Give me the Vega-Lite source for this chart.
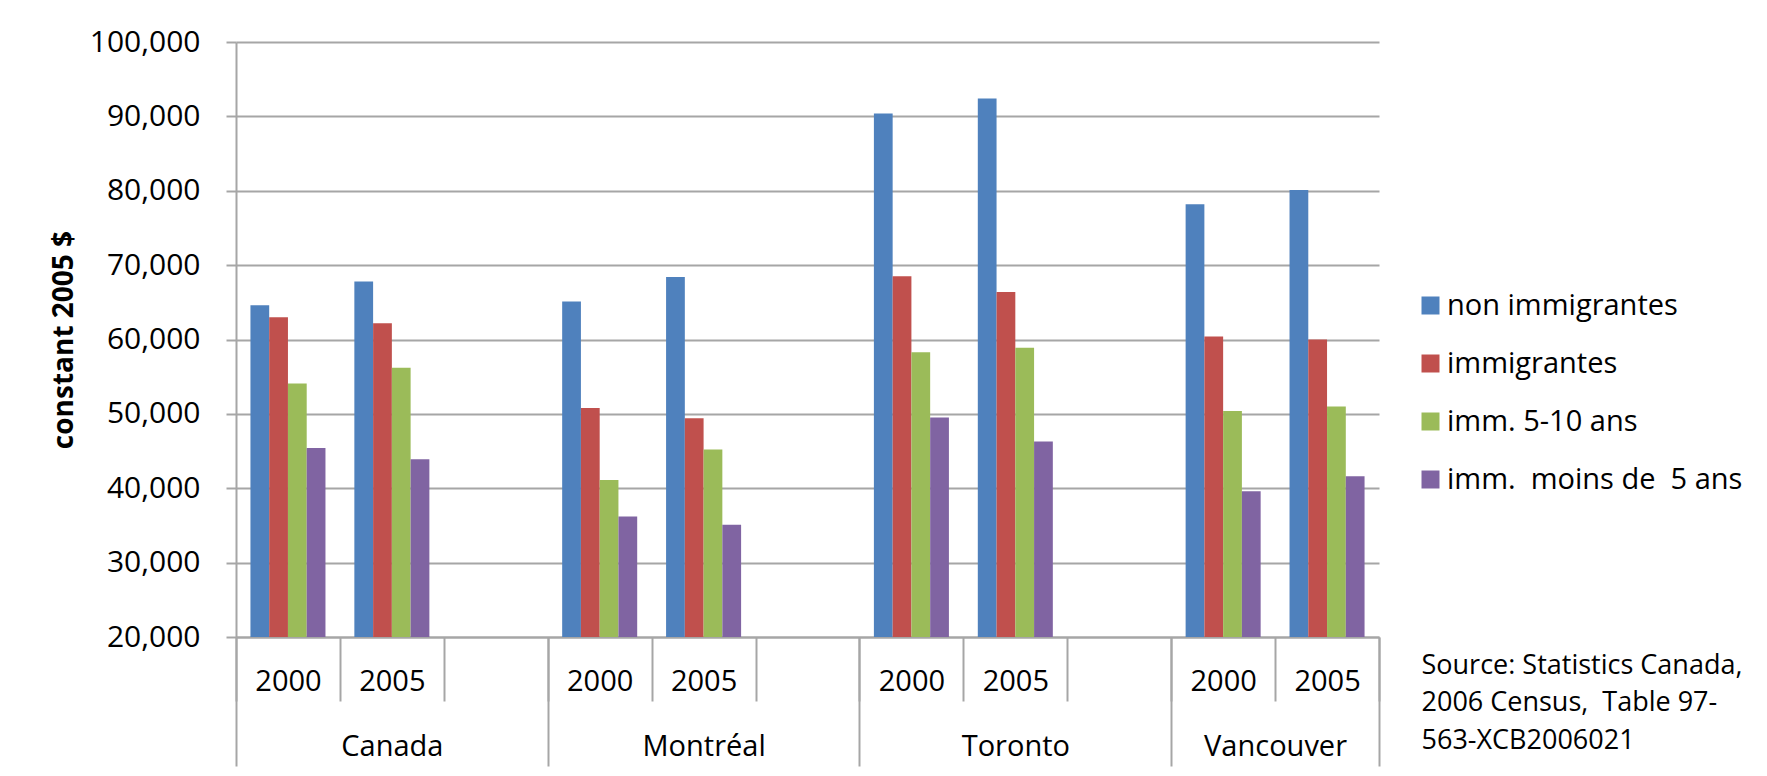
{
  "$schema": "https://vega.github.io/schema/vega-lite/v6.json",
  "width": 1143,
  "height": 595,
  "autosize": {"type": "none"},
  "padding": {"left": 236, "top": 42, "right": 388, "bottom": 139},
  "background": "white",
  "config": {
    "font": "Open Sans",
    "view": {"stroke": null},
    "axis": {
      "labelFont": "Open Sans",
      "titleFont": "Open Sans",
      "labelColor": "#000000",
      "titleColor": "#000000",
      "domainColor": "#a6a6a6",
      "domainWidth": 2,
      "tickColor": "#a6a6a6",
      "tickWidth": 2,
      "gridColor": "#a6a6a6",
      "gridWidth": 2
    }
  },
  "data": {
    "values": [
      {"city": "Canada", "year": "2000", "serie": "non immigrantes", "value": 64600},
      {"city": "Canada", "year": "2000", "serie": "immigrantes", "value": 63000},
      {"city": "Canada", "year": "2000", "serie": "imm. 5-10 ans", "value": 54100},
      {"city": "Canada", "year": "2000", "serie": "imm.  moins de  5 ans", "value": 45400},
      {"city": "Canada", "year": "2005", "serie": "non immigrantes", "value": 67800},
      {"city": "Canada", "year": "2005", "serie": "immigrantes", "value": 62200},
      {"city": "Canada", "year": "2005", "serie": "imm. 5-10 ans", "value": 56200},
      {"city": "Canada", "year": "2005", "serie": "imm.  moins de  5 ans", "value": 43900},
      {"city": "Montréal", "year": "2000", "serie": "non immigrantes", "value": 65100},
      {"city": "Montréal", "year": "2000", "serie": "immigrantes", "value": 50800},
      {"city": "Montréal", "year": "2000", "serie": "imm. 5-10 ans", "value": 41100},
      {"city": "Montréal", "year": "2000", "serie": "imm.  moins de  5 ans", "value": 36200},
      {"city": "Montréal", "year": "2005", "serie": "non immigrantes", "value": 68400},
      {"city": "Montréal", "year": "2005", "serie": "immigrantes", "value": 49400},
      {"city": "Montréal", "year": "2005", "serie": "imm. 5-10 ans", "value": 45200},
      {"city": "Montréal", "year": "2005", "serie": "imm.  moins de  5 ans", "value": 35100},
      {"city": "Toronto", "year": "2000", "serie": "non immigrantes", "value": 90400},
      {"city": "Toronto", "year": "2000", "serie": "immigrantes", "value": 68500},
      {"city": "Toronto", "year": "2000", "serie": "imm. 5-10 ans", "value": 58300},
      {"city": "Toronto", "year": "2000", "serie": "imm.  moins de  5 ans", "value": 49500},
      {"city": "Toronto", "year": "2005", "serie": "non immigrantes", "value": 92400},
      {"city": "Toronto", "year": "2005", "serie": "immigrantes", "value": 66400},
      {"city": "Toronto", "year": "2005", "serie": "imm. 5-10 ans", "value": 58900},
      {"city": "Toronto", "year": "2005", "serie": "imm.  moins de  5 ans", "value": 46300},
      {"city": "Vancouver", "year": "2000", "serie": "non immigrantes", "value": 78200},
      {"city": "Vancouver", "year": "2000", "serie": "immigrantes", "value": 60400},
      {"city": "Vancouver", "year": "2000", "serie": "imm. 5-10 ans", "value": 50400},
      {"city": "Vancouver", "year": "2000", "serie": "imm.  moins de  5 ans", "value": 39600},
      {"city": "Vancouver", "year": "2005", "serie": "non immigrantes", "value": 80100},
      {"city": "Vancouver", "year": "2005", "serie": "immigrantes", "value": 60000},
      {"city": "Vancouver", "year": "2005", "serie": "imm. 5-10 ans", "value": 51000},
      {"city": "Vancouver", "year": "2005", "serie": "imm.  moins de  5 ans", "value": 41600}
    ]
  },
  "transform": [
    {"calculate": "datum.city + '|' + datum.year", "as": "slot"}
  ],
  "resolve": {"axis": {"x": "independent"}},
  "layer": [
    {
      "mark": {"type": "bar", "clip": true},
      "encoding": {
        "x": {
          "field": "slot",
          "type": "nominal",
          "sort": null,
          "scale": {
            "domain": ["Canada|2000", "Canada|2005", "Canada|", "Montréal|2000", "Montréal|2005", "Montréal|", "Toronto|2000", "Toronto|2005", "Toronto|", "Vancouver|2000", "Vancouver|2005"],
            "paddingInner": 0,
            "paddingOuter": 0
          },
          "axis": {
            "orient": "bottom",
            "title": null,
            "tickBand": "extent",
            "tickSize": 64,
            "labelAngle": 0,
            "labelFontSize": 29,
            "labelBaseline": "alphabetic",
            "labelPadding": -10.7,
            "labelExpr": "split(datum.value, '|')[1]"
          }
        },
        "xOffset": {
          "field": "serie",
          "type": "nominal",
          "sort": null,
          "scale": {
            "domain": ["non immigrantes", "immigrantes", "imm. 5-10 ans", "imm.  moins de  5 ans"],
            "paddingInner": 0,
            "paddingOuter": 0.77
          }
        },
        "y": {
          "field": "value",
          "type": "quantitative",
          "scale": {"domain": [20000, 100000], "nice": false, "zero": false},
          "axis": {
            "values": [20000, 30000, 40000, 50000, 60000, 70000, 80000, 90000, 100000],
            "format": ",.0f",
            "grid": true,
            "tickSize": 10,
            "labelFontSize": 30,
            "labelPadding": 26,
            "title": "constant 2005 $",
            "titleFontSize": 28,
            "titleFontWeight": "bold",
            "titleAngle": 270,
            "titleX": -172,
            "titleY": 297.5,
            "titleAlign": "center",
            "titleBaseline": "middle"
          }
        },
        "color": {
          "field": "serie",
          "type": "nominal",
          "sort": null,
          "scale": {
            "domain": ["non immigrantes", "immigrantes", "imm. 5-10 ans", "imm.  moins de  5 ans"],
            "range": ["#4F81BD", "#C0504D", "#9BBB59", "#8064A2"]
          },
          "legend": {
            "orient": "none",
            "legendX": 1180,
            "legendY": 249,
            "title": null,
            "padding": 0,
            "symbolType": "square",
            "symbolSize": 324,
            "symbolStrokeWidth": 0,
            "labelFont": "Open Sans",
            "labelFontSize": 29,
            "labelLimit": 0,
            "labelColor": "#000000",
            "labelOffset": 2,
            "rowPadding": 28,
            "labelExpr": "join(split(datum.label, '  '), '\u00a0 ')"
          }
        }
      }
    },
    {
      "mark": {"type": "rule", "opacity": 0},
      "encoding": {
        "x": {
          "field": "slot",
          "type": "nominal",
          "sort": null,
          "scale": {
            "domain": ["Canada|2000", "Canada|2005", "Canada|", "Montréal|2000", "Montréal|2005", "Montréal|", "Toronto|2000", "Toronto|2005", "Toronto|", "Vancouver|2000", "Vancouver|2005"],
            "paddingInner": 0,
            "paddingOuter": 0
          },
          "axis": {
            "orient": "bottom",
            "domain": false,
            "tickBand": "extent",
            "tickSize": 129,
            "tickOpacity": {"condition": {"test": "indexof(['Canada|', 'Montréal|', 'Toronto|', 'Vancouver|2005'], datum.value) >= 0 || datum.index === 1 || datum.extra", "value": 1}, "value": 0},
            "labelAngle": 0,
            "labelFontSize": 29,
            "labelBaseline": "alphabetic",
            "labelPadding": -10.7,
            "labelOffset": {"condition": {"test": "datum.value === 'Vancouver|2005'", "value": -52}, "value": 0},
            "labelExpr": "split(datum.value, '|')[1] === '2005' ? split(datum.value, '|')[0] : ''",
            "title": ["Source: Statistics Canada,", "2006 Census,\u00a0 Table 97-", "563-XCB2006021"],
            "titleFontSize": 27,
            "titleFontWeight": "normal",
            "titleAlign": "left",
            "titleBaseline": "alphabetic",
            "titleAngle": 0,
            "titleLineHeight": 37.5,
            "titleX": 1185,
            "titleY": 36
          }
        }
      }
    }
  ]
}
